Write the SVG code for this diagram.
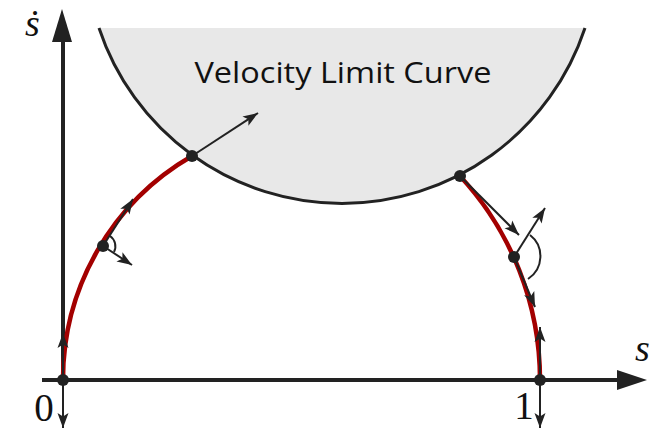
<svg xmlns="http://www.w3.org/2000/svg" width="658" height="431" viewBox="0 0 658 431">
<style>
.ax{stroke:#222;stroke-width:4;fill:none}
.thin{stroke:#222;stroke-width:2;fill:none}
.red{stroke:#a30000;stroke-width:4.5;fill:none}
.dot{fill:#222}
.lbl{font-family:"Liberation Serif",serif;fill:#111}
</style>
<defs>
<marker id="ah" markerUnits="userSpaceOnUse" markerWidth="18" markerHeight="12" refX="15" refY="6" orient="auto">
<path d="M0,0.5 L15,6 L0,11.5 L3.5,6 z" fill="#222"/>
</marker>
</defs>
<g id="vlc">
<path d="M99,28 A256,256 0 0 0 585,28 Z" fill="#e8e8e8" stroke="none"/>
<path d="M99,28 A256,256 0 0 0 585,28" fill="none" stroke="#222" stroke-width="3"/>
<text x="343" y="83" text-anchor="middle" font-family="'Open Sans',sans-serif" font-size="29" fill="#111" textLength="297" lengthAdjust="spacingAndGlyphs">Velocity Limit Curve</text>
</g>
<g id="connectors">
<line class="ax" x1="63" y1="382" x2="63" y2="40"/>
<path d="M62,9 L72,42 L52,42 z" fill="#222"/>
<line class="ax" x1="42" y1="380" x2="620" y2="380"/>
<path d="M647,380 L617,370 L617,390 z" fill="#222"/>
<path class="red" d="M63,380 A258,258 0 0 1 192,156"/>
<path class="red" d="M460,176 A300,300 0 0 1 540,380"/>
<line class="thin" x1="192" y1="156" x2="258" y2="113" marker-end="url(#ah)"/>
<line class="thin" x1="103" y1="246" x2="133" y2="199" marker-end="url(#ah)"/>
<line class="thin" x1="103" y1="246" x2="132" y2="265" marker-end="url(#ah)"/>
<path class="thin" d="M110,236 A12.5,12.5 0 0 1 114,252"/>
<line class="thin" x1="460" y1="176" x2="519" y2="235" stroke-width="1.6" marker-end="url(#ah)"/>
<line class="thin" x1="514" y1="257" x2="545" y2="208" marker-end="url(#ah)"/>
<line class="thin" x1="514" y1="257" x2="535" y2="307" marker-end="url(#ah)"/>
<path class="thin" d="M530,235 A27,27 0 0 1 528,279"/>
<line class="thin" x1="63" y1="380" x2="63" y2="333" marker-end="url(#ah)"/>
<line class="thin" x1="540" y1="380" x2="540" y2="327" marker-end="url(#ah)"/>
<line class="thin" x1="63" y1="380" x2="63" y2="428" marker-end="url(#ah)"/>
<line class="thin" x1="540" y1="380" x2="540" y2="428" marker-end="url(#ah)"/>
</g>
<g id="points">
<circle class="dot" cx="192" cy="156" r="6"/>
<circle class="dot" cx="460" cy="176" r="6"/>
<circle class="dot" cx="103" cy="246" r="6"/>
<circle class="dot" cx="514" cy="257" r="6"/>
<circle class="dot" cx="63" cy="380" r="6"/>
<circle class="dot" cx="540" cy="380" r="6"/>
</g>
<g id="labels">
<text class="lbl" x="25" y="36" font-size="38" font-style="italic">ṡ</text>
<text class="lbl" x="635" y="361" font-size="38" font-style="italic">s</text>
<text class="lbl" x="44" y="421" font-size="39" text-anchor="middle">0</text>
<text class="lbl" x="524" y="419" font-size="39" text-anchor="middle">1</text>
</g>
</svg>
